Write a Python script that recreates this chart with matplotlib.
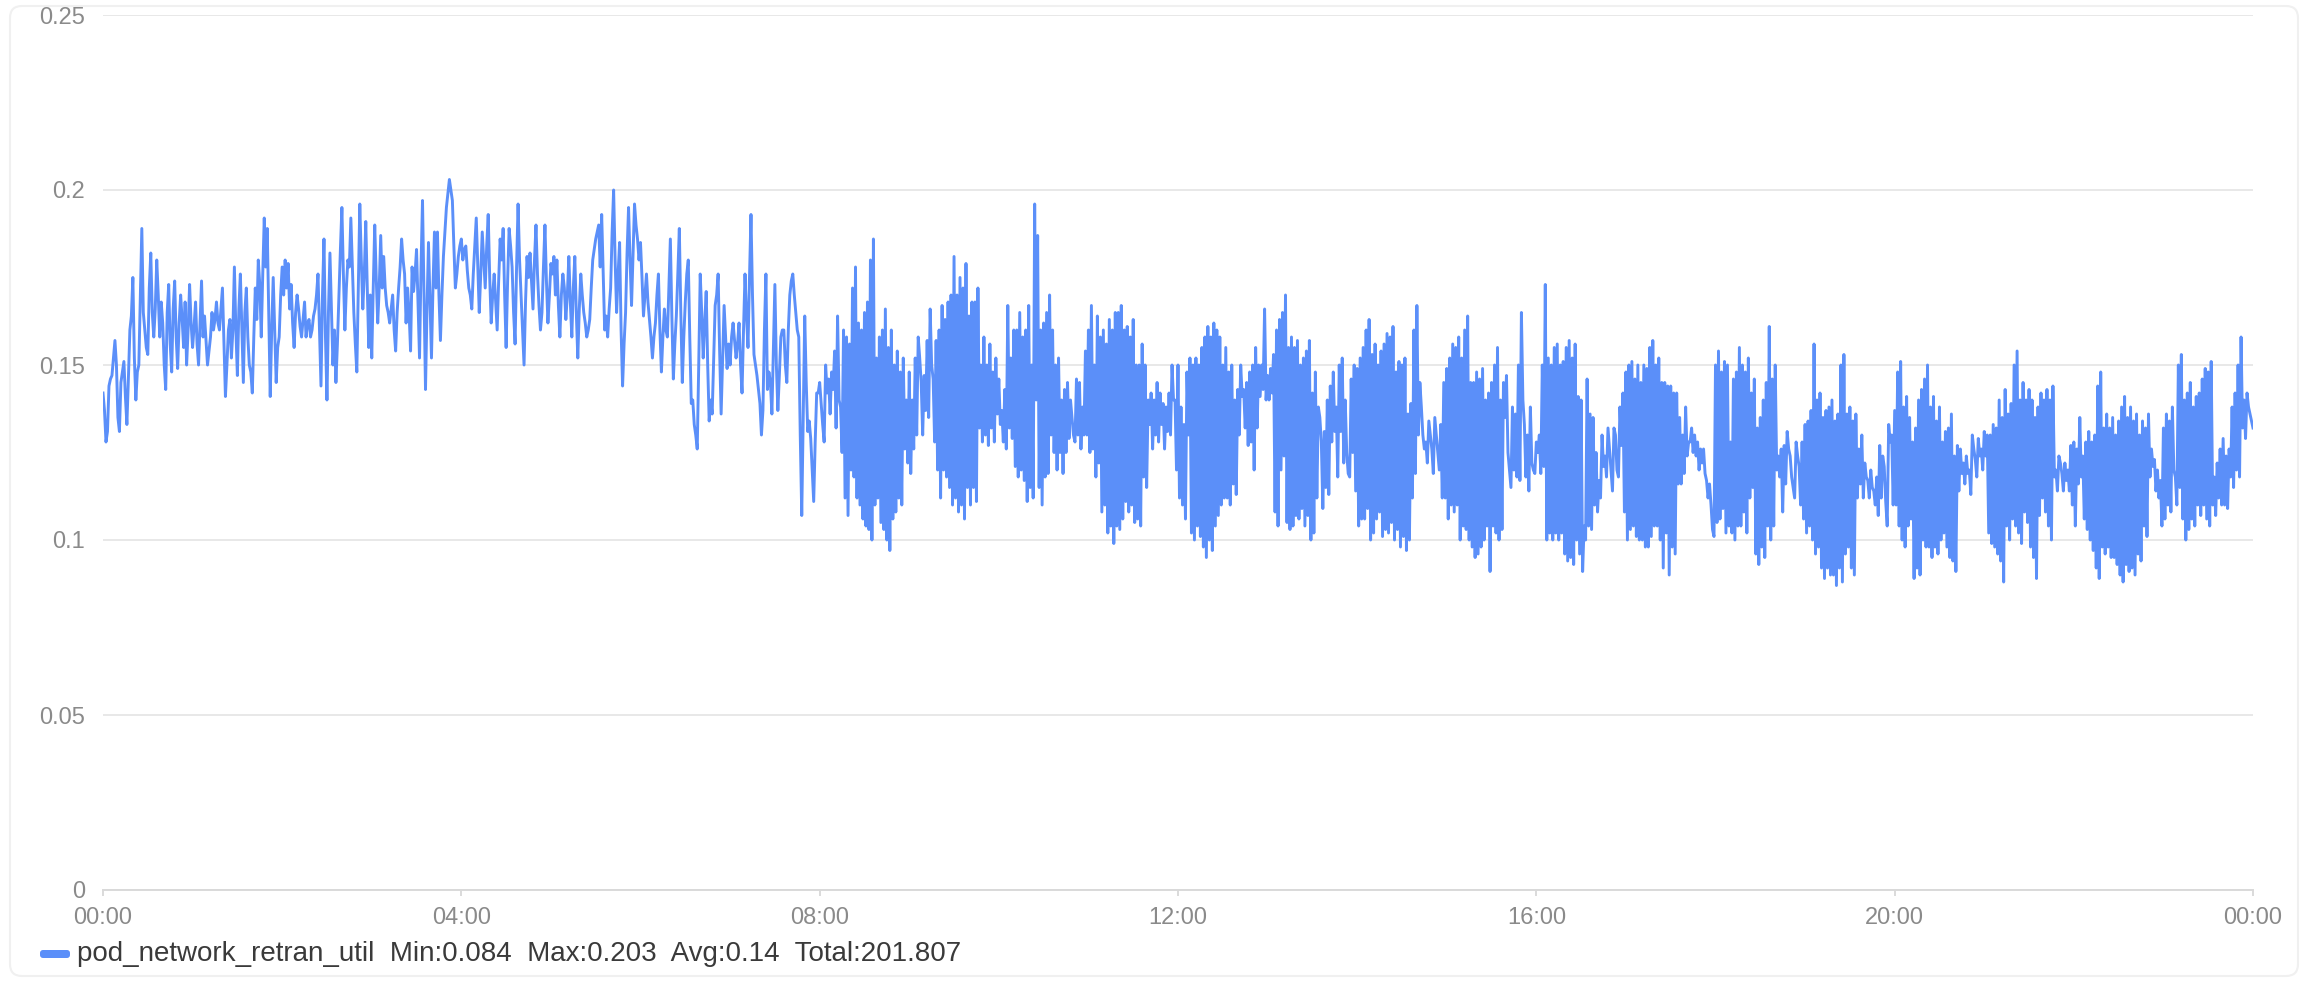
import matplotlib
matplotlib.use("Agg")
import matplotlib.pyplot as plt
import numpy as np
from matplotlib.patches import FancyBboxPatch
from matplotlib.transforms import IdentityTransform

# pod_network_retran_util readings, in thousandths (one per minute).
# "even" lists hold minutes 0,2,4,...  "odd" lists hold minutes 1,3,5,...
even_00_04 = [
    142, 128, 144, 147, 157, 135, 145, 151, 133, 160,
    175, 140, 150, 189, 160, 153, 182, 158, 180, 158,
    162, 143, 173, 148, 174, 149, 170, 155, 150, 173,
    155, 168, 150, 174, 164, 150, 158, 160, 168, 160,
    172, 141, 160, 152, 178, 147, 176, 145, 172, 150,
    142, 172, 180, 158, 192, 189, 141, 175, 145, 158,
    178, 180, 179, 173, 155, 170, 161, 163, 158, 163,
    160, 166, 176, 144, 186, 140, 182, 150, 145, 170,
    195, 160, 180, 192, 165, 148, 196, 166, 191, 155,
    152, 190, 162, 187, 181, 167, 162, 170, 154, 172,
    186, 176, 172, 154, 171, 183, 152, 197, 143, 185,
    152, 188, 188, 157, 181, 195, 203, 197, 172, 181,
]
odd_00_04 = [
    137, 131, 146, 152, 150, 131, 148, 141, 146, 164,
    152, 148, 170, 165, 155, 172, 165, 166, 170, 168,
    150, 165, 156, 166, 158, 162, 163, 168, 160, 162,
    161, 156, 162, 158, 157, 154, 165, 163, 162, 166,
    156, 150, 163, 160, 160, 166, 160, 165, 158, 148,
    158, 163, 173, 176, 178, 165, 160, 160, 155, 170,
    170, 172, 166, 162, 165, 166, 158, 168, 162, 158,
    164, 170, 160, 170, 158, 165, 166, 160, 156, 183,
    176, 172, 178, 178, 156, 172, 180, 176, 172, 170,
    172, 175, 172, 172, 172, 165, 166, 160, 165, 178,
    180, 162, 165, 178, 176, 168, 178, 170, 166, 168,
    172, 172, 170, 170, 188, 199, 200, 184, 176, 184,
]
even_04_08 = [
    186, 183, 177, 170, 176, 192, 165, 188, 172, 193,
    162, 176, 160, 186, 189, 155, 189, 178, 156, 196,
    170, 150, 181, 182, 166, 190, 167, 165, 190, 162,
    179, 181, 180, 158, 176, 163, 181, 158, 181, 152,
    176, 165, 158, 163, 180, 186, 190, 193, 160, 158,
    172, 200, 165, 185, 144, 165, 195, 167, 196, 186,
    185, 164, 176, 163, 152, 162, 176, 148, 166, 158,
    186, 146, 164, 189, 145, 168, 180, 139, 133, 126,
    176, 152, 171, 134, 136, 167, 176, 136, 167, 149,
    150, 162, 152, 162, 142, 176, 155, 193, 153, 147,
    139, 137, 176, 148, 136, 173, 137, 158, 160, 145,
    170, 176, 165, 158, 107, 164, 131, 129, 111, 142,
]
odd_04_08 = [
    180, 184, 172, 166, 184, 178, 176, 180, 184, 175,
    170, 168, 174, 180, 170, 174, 184, 165, 178, 180,
    160, 168, 175, 174, 180, 176, 160, 178, 174, 170,
    176, 170, 167, 170, 172, 170, 168, 172, 165, 166,
    170, 162, 160, 172, 183, 188, 178, 176, 164, 166,
    188, 180, 176, 160, 156, 182, 180, 182, 190, 180,
    175, 170, 168, 158, 158, 170, 160, 158, 160, 172,
    164, 156, 176, 165, 158, 176, 158, 140, 130, 150,
    165, 162, 150, 140, 152, 170, 154, 152, 158, 156,
    158, 157, 156, 150, 160, 164, 175, 170, 150, 143,
    130, 160, 143, 145, 155, 150, 147, 160, 150, 160,
    174, 170, 160, 130, 136, 145, 134, 120, 128, 142,
]
even_08_12 = [
    145, 133, 150, 146, 148, 154, 164, 138, 160, 158,
    156, 172, 178, 162, 160, 165, 168, 180, 186, 152,
    158, 160, 166, 155, 160, 150, 154, 148, 152, 140,
    148, 140, 152, 158, 145, 147, 157, 166, 146, 157,
    160, 167, 163, 168, 170, 181, 170, 175, 172, 179,
    164, 168, 168, 172, 150, 158, 150, 156, 148, 152,
    146, 137, 143, 167, 152, 160, 160, 165, 158, 160,
    167, 150, 196, 187, 160, 162, 165, 170, 160, 150,
    152, 140, 143, 145, 140, 130, 146, 145, 138, 154,
    160, 167, 150, 164, 158, 160, 156, 163, 160, 165,
    165, 167, 160, 161, 158, 163, 150, 150, 156, 150,
    140, 142, 140, 145, 142, 139, 138, 142, 150, 140,
]
odd_08_12 = [
    139, 128, 142, 136, 143, 132, 140, 125, 112, 107,
    120, 118, 112, 110, 106, 104, 103, 100, 110, 112,
    105, 103, 100, 97, 106, 108, 112, 110, 126, 122,
    119, 126, 130, 152, 130, 137, 135, 150, 128, 120,
    112, 120, 118, 115, 110, 112, 108, 110, 106, 115,
    110, 115, 111, 132, 128, 130, 127, 132, 128, 136,
    133, 128, 126, 132, 129, 121, 118, 120, 117, 111,
    115, 112, 140, 115, 110, 118, 119, 130, 125, 120,
    125, 119, 125, 129, 135, 128, 130, 126, 130, 130,
    125, 126, 118, 122, 108, 110, 102, 104, 99, 104,
    103, 106, 111, 108, 110, 105, 106, 104, 118, 115,
    133, 126, 130, 128, 133, 126, 131, 130, 140, 120,
]
even_12_16 = [
    150, 138, 133, 148, 152, 150, 152, 150, 155, 158,
    161, 158, 162, 160, 158, 150, 155, 148, 150, 140,
    143, 150, 143, 145, 148, 150, 155, 150, 150, 166,
    147, 149, 153, 160, 163, 165, 170, 155, 158, 155,
    157, 150, 152, 154, 157, 142, 148, 138, 128, 131,
    140, 144, 148, 138, 150, 152, 140, 119, 146, 150,
    149, 152, 155, 160, 163, 153, 156, 150, 154, 156,
    159, 158, 161, 148, 151, 150, 152, 136, 139, 160,
    167, 145, 130, 128, 134, 126, 135, 125, 133, 145,
    149, 152, 156, 155, 158, 152, 160, 164, 145, 145,
    148, 146, 149, 140, 142, 145, 150, 155, 140, 145,
    147, 120, 138, 136, 150, 165, 133, 130, 138, 120,
]
odd_12_16 = [
    112, 110, 106, 130, 102, 100, 104, 101, 98, 95,
    100, 97, 104, 107, 110, 112, 112, 110, 116, 113,
    130, 141, 132, 127, 128, 120, 132, 141, 143, 140,
    140, 142, 108, 104, 120, 124, 105, 103, 104, 107,
    106, 109, 104, 107, 100, 102, 112, 135, 109, 115,
    113, 128, 131, 118, 131, 122, 125, 118, 125, 114,
    104, 106, 106, 109, 100, 102, 106, 108, 101, 103,
    102, 105, 100, 103, 98, 101, 97, 100, 112, 119,
    130, 138, 126, 122, 130, 119, 130, 120, 112, 112,
    106, 110, 108, 110, 100, 104, 103, 100, 98, 95,
    96, 98, 100, 104, 91, 104, 102, 100, 103, 135,
    125, 115, 120, 118, 117, 140, 118, 114, 122, 119,
]
even_16_20 = [
    128, 130, 150, 173, 152, 150, 155, 156, 150, 151,
    155, 157, 152, 156, 141, 140, 104, 146, 136, 135,
    125, 117, 130, 124, 132, 120, 132, 120, 138, 142,
    148, 150, 151, 146, 150, 145, 150, 149, 155, 157,
    150, 152, 145, 145, 144, 144, 142, 142, 135, 130,
    138, 128, 132, 130, 128, 126, 126, 117, 116, 103,
    150, 154, 148, 151, 150, 128, 146, 148, 155, 150,
    148, 152, 142, 146, 132, 135, 140, 145, 161, 146,
    150, 124, 126, 127, 131, 124, 115, 128, 121, 128,
    133, 134, 137, 156, 140, 142, 135, 137, 138, 140,
    134, 136, 150, 153, 136, 138, 134, 136, 126, 130,
    122, 117, 120, 114, 118, 127, 124, 111, 133, 130,
]
odd_16_20 = [
    125, 119, 121, 100, 102, 100, 102, 100, 102, 96,
    94, 95, 93, 100, 96, 91, 100, 104, 103, 110,
    108, 112, 121, 118, 126, 114, 130, 118, 127, 108,
    100, 103, 104, 101, 100, 100, 98, 98, 101, 104,
    104, 100, 92, 102, 90, 98, 96, 116, 116, 119,
    124, 128, 125, 124, 120, 122, 119, 112, 110, 101,
    105, 106, 109, 102, 104, 102, 100, 104, 104, 108,
    102, 112, 115, 96, 93, 98, 95, 104, 100, 104,
    120, 118, 108, 116, 126, 118, 112, 124, 110, 106,
    102, 104, 100, 96, 98, 92, 89, 92, 90, 90,
    87, 92, 88, 96, 98, 92, 90, 112, 116, 112,
    118, 112, 115, 110, 107, 112, 121, 104, 128, 110,
]
even_20_24 = [
    137, 148, 151, 138, 141, 135, 128, 132, 140, 143,
    146, 150, 138, 141, 134, 138, 128, 131, 132, 136,
    124, 127, 126, 122, 124, 120, 130, 123, 129, 126,
    131, 130, 130, 133, 132, 140, 135, 143, 136, 139,
    150, 154, 140, 145, 140, 143, 140, 135, 138, 142,
    140, 143, 140, 144, 120, 124, 119, 122, 120, 127,
    128, 126, 135, 124, 128, 131, 128, 130, 144, 148,
    132, 136, 132, 135, 130, 134, 138, 141, 135, 138,
    134, 136, 130, 134, 132, 136, 126, 123, 120, 117,
    132, 136, 134, 138, 118, 150, 153, 140, 142, 145,
    138, 141, 142, 146, 149, 148, 151, 118, 122, 126,
    129, 124, 126, 138, 142, 150, 158, 140, 142, 136,
    132,
]
odd_20_24 = [
    110, 104, 100, 98, 104, 106, 89, 92, 90, 100,
    98, 98, 95, 98, 96, 100, 102, 98, 95, 94,
    91, 114, 119, 116, 119, 113, 126, 118, 124, 120,
    124, 102, 99, 98, 96, 94, 88, 104, 100, 106,
    104, 102, 99, 108, 105, 98, 95, 89, 107, 112,
    108, 104, 100, 118, 114, 122, 114, 117, 114, 110,
    104, 116, 118, 106, 103, 100, 97, 92, 89, 98,
    96, 98, 95, 95, 93, 90, 88, 93, 91, 92,
    90, 96, 94, 104, 101, 118, 121, 114, 112, 104,
    106, 110, 108, 120, 110, 115, 106, 100, 103, 106,
    104, 110, 107, 110, 106, 104, 110, 107, 112, 110,
    110, 109, 118, 115, 120, 118, 132, 129, 138, 134,
]

series_name = "pod_network_retran_util"
stat_min = "0.084"
stat_max = "0.203"
stat_avg = "0.14"
stat_total = "201.807"

x_tick_minutes = [0, 240, 480, 720, 960, 1200, 1440]
x_tick_labels = ["00:00", "04:00", "08:00", "12:00", "16:00", "20:00", "00:00"]
y_ticks = [0, 0.05, 0.1, 0.15, 0.2, 0.25]
y_tick_labels = ["0", "0.05", "0.1", "0.15", "0.2", "0.25"]

# ---------------------------------------------------------------
plt.rcParams["font.family"] = ["Liberation Sans", "DejaVu Sans"]

even = np.array(even_00_04 + even_04_08 + even_08_12 +
                even_12_16 + even_16_20 + even_20_24)
odd = np.array(odd_00_04 + odd_04_08 + odd_08_12 +
               odd_12_16 + odd_16_20 + odd_20_24)
values = np.empty(len(even) + len(odd))
values[0::2] = even
values[1::2] = odd
values = values / 1000.0
minutes = np.arange(len(values))

W, H = 2306, 982
fig = plt.figure(figsize=(W / 100, H / 100), dpi=100)
fig.patch.set_facecolor("white")

# faint card outline
card = FancyBboxPatch((10, 6), W - 18, H - 12,
                      boxstyle="round,pad=0,rounding_size=12",
                      transform=IdentityTransform(), facecolor="none",
                      edgecolor="#f0f0f0", linewidth=1.5, zorder=0)
fig.add_artist(card)

ax = fig.add_axes([103 / W, 1 - 890 / H, 2150 / W, 875 / H])
ax.set_facecolor("none")

line_color = "#5B8FF9"
ax.plot(minutes, values, color=line_color, lw=2.1, solid_joinstyle="round",
        zorder=3)

ax.set_xlim(0, 1440)
ax.set_ylim(0, 0.25)
ax.set_xticks(x_tick_minutes)
ax.set_xticklabels(x_tick_labels)
ax.set_yticks(y_ticks)
ax.set_yticklabels(y_tick_labels)

tick_color = "#8a8a8a"
ax.tick_params(axis="y", length=0, pad=13, labelsize=17, labelcolor=tick_color)
ax.tick_params(axis="x", length=4.5, width=1.2, color="#d4d4d4", pad=8,
               labelsize=17, labelcolor=tick_color)

ax.grid(axis="y", color="#e8e8e8", lw=1.4)
ax.set_axisbelow(True)
for s in ["top", "right", "left"]:
    ax.spines[s].set_visible(False)
ax.spines["bottom"].set_color("#d9d9d9")
ax.spines["bottom"].set_linewidth(1.4)

# legend (custom, bottom-left)
legend_patch = FancyBboxPatch((40, H - 958), 30, 8,
                              boxstyle="round,pad=0,rounding_size=3",
                              transform=IdentityTransform(),
                              facecolor=line_color, edgecolor="none")
fig.add_artist(legend_patch)
legend_text = (f"{series_name}  Min:{stat_min}  Max:{stat_max}  "
               f"Avg:{stat_avg}  Total:{stat_total}")
fig.text(77 / W, 1 - 954 / H, legend_text, fontsize=20, color="#3a3a3a",
         ha="left", va="center")

fig.savefig("out.png", dpi=100, facecolor="white")
